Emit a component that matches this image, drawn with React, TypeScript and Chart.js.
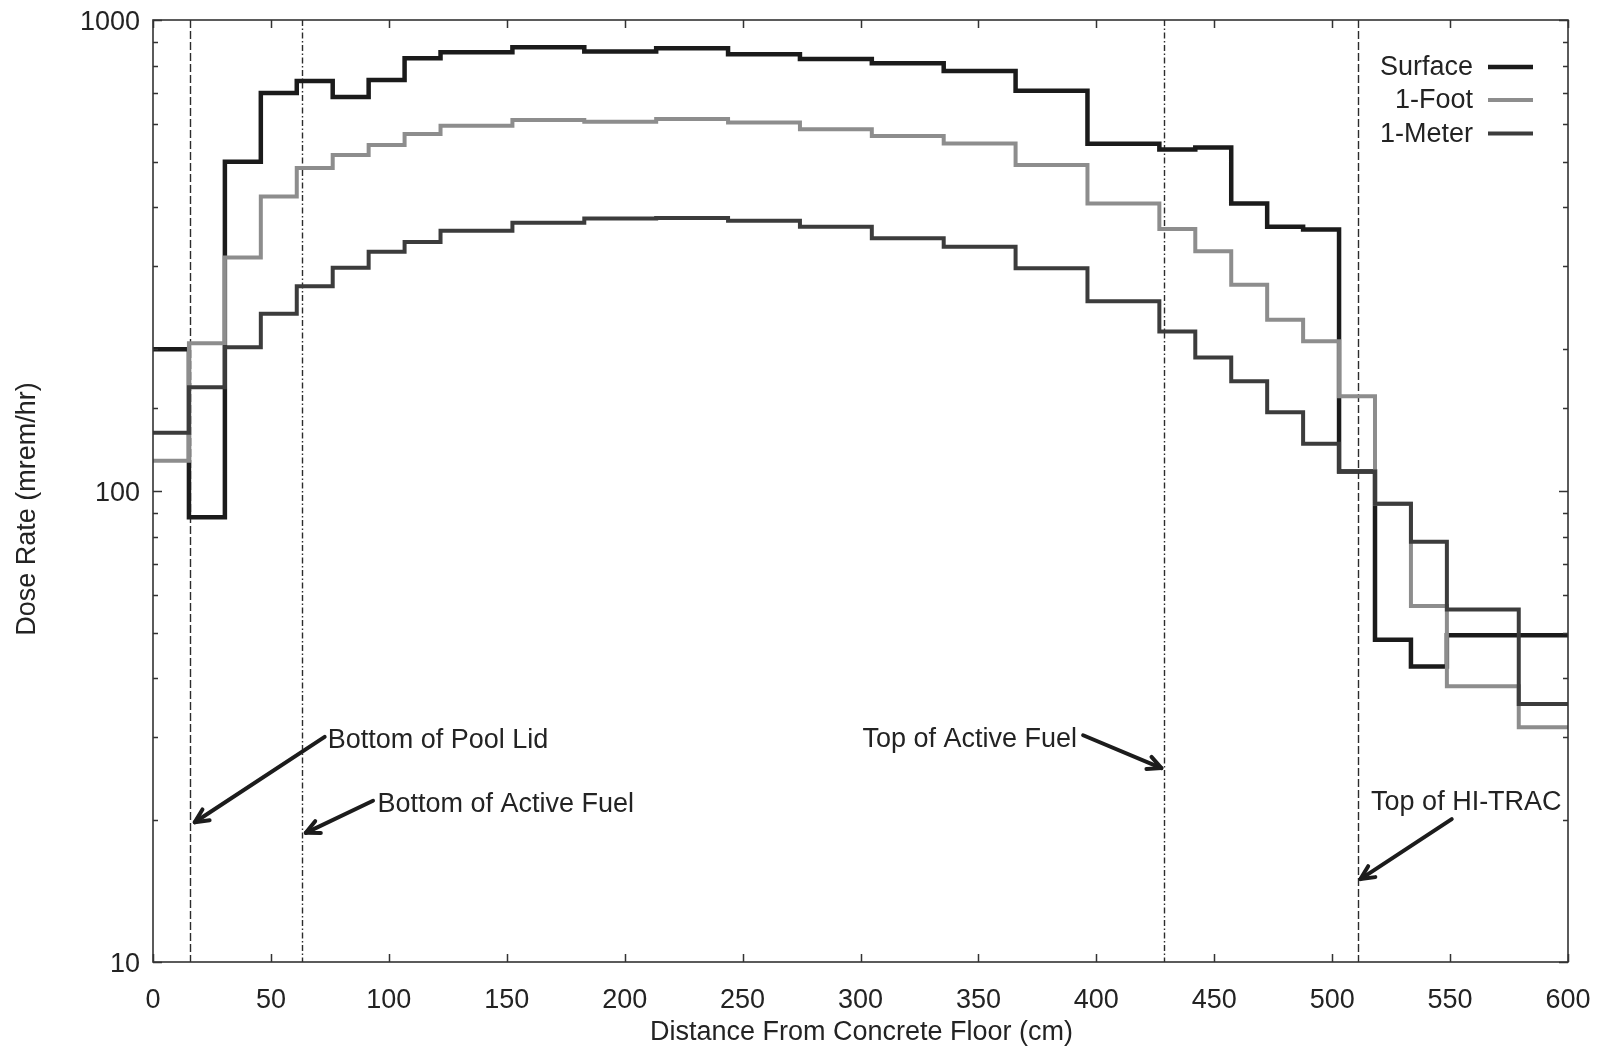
import React, { useEffect, useRef } from "react";
import { Chart, registerables } from "chart.js";

Chart.register(...registerables);

// Bin edges along the cask (cm) and dose rates per bin (mrem/hr)
const binEdges = [
  0, 15.24, 30.48, 45.72, 60.96, 76.2, 91.44, 106.68, 121.92, 152.4, 182.88,
  213.36, 243.84, 274.32, 304.8, 335.28, 365.76, 396.24, 426.72, 441.96, 457.2,
  472.44, 487.68, 502.92, 518.16, 533.4, 548.64, 579.12, 600,
];
const surface = [
  200, 88, 500, 700, 742, 686, 746, 829, 854, 875, 857, 871, 846, 826, 809, 779,
  708, 546, 531, 536, 408, 364, 359, 110, 48.3, 42.4, 49.4, 49.4,
];
const oneFoot = [
  116, 206, 313, 422, 485, 517, 543, 573, 596, 613, 608, 616, 606, 586, 567, 547,
  492, 408, 360, 323, 274, 231, 208, 159, 94, 57, 38.5, 31.5,
];
const oneMeter = [
  133, 166, 202, 238, 272, 298, 322, 338, 357, 371, 379, 380, 375, 364, 344, 330,
  297, 253, 218, 192, 171, 147, 126, 110, 94, 78, 56, 35.3,
];
const seriesLabels = ["Surface", "1-Foot", "1-Meter"];
const seriesValues = [surface, oneFoot, oneMeter];
const seriesColors = ["#1b1b1b", "#8d8d8d", "#3c3c3c"];
const seriesWidths = [4.5, 4, 4];

const xMin = 0;
const xMax = 600;
const xStep = 50;
const yMin = 10;
const yMax = 1000;
const yLabelValues = [10, 100, 1000];

const xTitle = "Distance From Concrete Floor (cm)";
const yTitle = "Dose Rate (mrem/hr)";

// Reference vertical lines (cm)
const markerX = [15.5, 63.2, 428.5, 510.9];
const markerDash = [
  [8, 3],
  [6, 2.5, 1.5, 2.5],
  [6, 2.5, 1.5, 2.5],
  [8, 3],
];

// Annotation texts with arrows, in data units
const annotations = [
  { text: "Bottom of Pool Lid", at: [74.1, 29.8], align: "left", from: [72.8, 30.05], to: [17.7, 19.8] },
  { text: "Bottom of Active Fuel", at: [95.2, 21.8], align: "left", from: [93.3, 22.0], to: [64.8, 18.8] },
  { text: "Top of Active Fuel", at: [391.8, 29.9], align: "right", from: [394.4, 30.3], to: [427.6, 25.8] },
  { text: "Top of HI-TRAC", at: [516.5, 22.0], align: "left", from: [550.7, 20.1], to: [512, 15.0] },
];

const FONT = '"Liberation Sans", Arial, sans-serif';
const TEXT = "#232323";

const isPow10 = (v: number) => Math.abs(Math.log10(v) - Math.round(Math.log10(v))) < 1e-9;

const decorPlugin = {
  id: "decor",
  beforeDatasetsDraw(chart: any) {
    const { ctx, chartArea: a, scales } = chart;
    const x = scales.x;
    ctx.save();
    ctx.strokeStyle = "#2c2c2c";
    ctx.lineWidth = 1.4;
    markerX.forEach((m, i) => {
      const px = Math.round(x.getPixelForValue(m)) + 0.5;
      ctx.setLineDash(markerDash[i]);
      ctx.beginPath();
      ctx.moveTo(px, a.top);
      ctx.lineTo(px, a.bottom);
      ctx.stroke();
    });
    ctx.restore();
  },
  afterDatasetsDraw(chart: any) {
    const { ctx, chartArea: a, scales } = chart;
    const x = scales.x;
    const y = scales.y;
    ctx.save();
    // frame
    ctx.strokeStyle = "#333";
    ctx.lineWidth = 1.6;
    ctx.strokeRect(a.left, a.top, a.right - a.left, a.bottom - a.top);
    // y ticks (inward, both sides)
    ctx.lineWidth = 1.5;
    y.ticks.forEach((t: any) => {
      const py = Math.round(y.getPixelForValue(t.value)) + 0.5;
      const len = isPow10(t.value) ? 9 : 5;
      ctx.beginPath();
      ctx.moveTo(a.left, py);
      ctx.lineTo(a.left + len, py);
      ctx.moveTo(a.right, py);
      ctx.lineTo(a.right - len, py);
      ctx.stroke();
    });
    // x ticks (inward, top and bottom)
    for (let v = xMin; v <= xMax; v += xStep) {
      const px = Math.round(x.getPixelForValue(v)) + 0.5;
      ctx.beginPath();
      ctx.moveTo(px, a.bottom);
      ctx.lineTo(px, a.bottom - 8);
      ctx.moveTo(px, a.top);
      ctx.lineTo(px, a.top + 8);
      ctx.stroke();
    }
    // annotations
    ctx.font = `27px ${FONT}`;
    ctx.fillStyle = TEXT;
    ctx.textBaseline = "middle";
    annotations.forEach((an) => {
      ctx.textAlign = an.align as CanvasTextAlign;
      ctx.fillText(an.text, x.getPixelForValue(an.at[0]), y.getPixelForValue(an.at[1]) + 2);
      const x1 = x.getPixelForValue(an.from[0]);
      const y1 = y.getPixelForValue(an.from[1]);
      const x2 = x.getPixelForValue(an.to[0]);
      const y2 = y.getPixelForValue(an.to[1]);
      ctx.strokeStyle = "#1c1c1c";
      ctx.lineWidth = 4;
      ctx.lineCap = "round";
      ctx.lineJoin = "round";
      ctx.beginPath();
      ctx.moveTo(x1, y1);
      ctx.lineTo(x2, y2);
      ctx.stroke();
      const ang = Math.atan2(y2 - y1, x2 - x1);
      const hl = 15;
      const spread = 0.45;
      ctx.beginPath();
      ctx.moveTo(x2 - hl * Math.cos(ang - spread), y2 - hl * Math.sin(ang - spread));
      ctx.lineTo(x2, y2);
      ctx.lineTo(x2 - hl * Math.cos(ang + spread), y2 - hl * Math.sin(ang + spread));
      ctx.stroke();
    });
    // legend
    ctx.lineCap = "butt";
    const legendRight = a.right - 95;
    const rowY = [67, 100, 133.5];
    seriesLabels.forEach((lab, i) => {
      ctx.textAlign = "right";
      ctx.textBaseline = "middle";
      ctx.fillStyle = TEXT;
      ctx.font = `27px ${FONT}`;
      ctx.fillText(lab, legendRight, rowY[i] + 1);
      ctx.strokeStyle = seriesColors[i];
      ctx.lineWidth = seriesWidths[i];
      ctx.beginPath();
      ctx.moveTo(legendRight + 15, rowY[i]);
      ctx.lineTo(legendRight + 60, rowY[i]);
      ctx.stroke();
    });
    // axis titles
    ctx.fillStyle = TEXT;
    ctx.font = `27px ${FONT}`;
    ctx.textAlign = "center";
    ctx.textBaseline = "middle";
    ctx.fillText(xTitle, (a.left + a.right) / 2 + 1, 1033);
    ctx.save();
    ctx.translate(27.5, 509);
    ctx.rotate(-Math.PI / 2);
    ctx.fillText(yTitle, 0, 0);
    ctx.restore();
    ctx.restore();
  },
};

export default function App() {
  const ref = useRef<HTMLCanvasElement | null>(null);
  useEffect(() => {
    if (!ref.current) return;
    const datasets = seriesLabels.map((lab, i) => ({
      label: lab,
      data: binEdges.map((e, j) => ({
        x: e,
        y: seriesValues[i][Math.min(j, seriesValues[i].length - 1)],
      })),
      borderColor: seriesColors[i],
      backgroundColor: seriesColors[i],
      borderWidth: seriesWidths[i],
      stepped: true,
      pointRadius: 0,
      fill: false,
      borderJoinStyle: "miter" as const,
      order: 3 - i,
    }));
    const chart = new Chart(ref.current, {
      type: "line",
      data: { datasets },
      options: {
        animation: false,
        responsive: false,
        devicePixelRatio: 1,
        layout: { padding: { left: 0, right: 32, top: 20, bottom: 0 } },
        plugins: {
          legend: { display: false },
          tooltip: { enabled: false },
        },
        scales: {
          x: {
            type: "linear",
            min: xMin,
            max: xMax,
            grid: { display: false, drawTicks: false },
            border: { display: false },
            ticks: {
              stepSize: xStep,
              padding: 22,
              color: TEXT,
              font: { family: FONT, size: 27 },
              maxRotation: 0,
            },
            afterFit: (s: any) => {
              s.height = 86;
              s.paddingLeft = 0;
              s.paddingRight = 0;
            },
          },
          y: {
            type: "logarithmic",
            min: yMin,
            max: yMax,
            grid: { display: false, drawTicks: false },
            border: { display: false },
            ticks: {
              autoSkip: false,
              padding: 13,
              labelOffset: 3,
              color: TEXT,
              font: { family: FONT, size: 27 },
              callback: (v: any) => (yLabelValues.some((l) => Math.abs(l - Number(v)) < 1e-6) ? String(v) : ""),
            },
            afterFit: (s: any) => {
              s.width = 153;
              s.paddingTop = 0;
              s.paddingBottom = 0;
            },
          },
        },
      },
      plugins: [decorPlugin],
    });
    return () => chart.destroy();
  }, []);
  return (
    <div style={{ position: "fixed", left: 0, top: 0, width: 1600, height: 1048, background: "#fff" }}>
      <canvas ref={ref} width={1600} height={1048} style={{ display: "block" }} />
    </div>
  );
}
